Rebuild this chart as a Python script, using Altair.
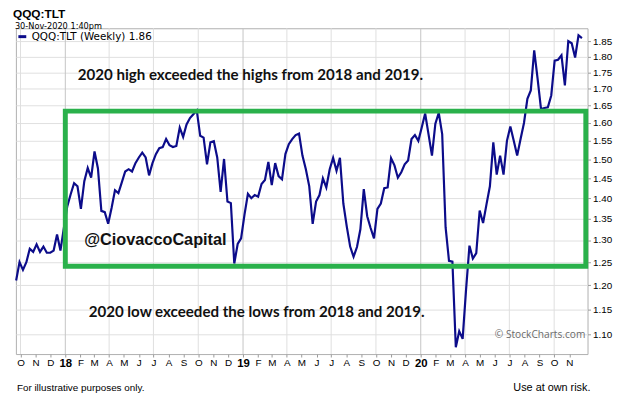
import altair as alt
import pandas as pd

# ---------------- data ----------------
series_name = "QQQ:TLT (Weekly) 1.86"
start_date = "2017-09-22"  # first weekly bar
ratio_values = [
    1.21, 1.25, 1.233, 1.25, 1.28, 1.273, 1.29, 1.273, 1.285, 1.271,
    1.271, 1.276, 1.313, 1.276, 1.328, 1.38, 1.41, 1.438, 1.43, 1.374,
    1.443, 1.477, 1.452, 1.521, 1.476, 1.369, 1.366, 1.338, 1.376, 1.42,
    1.413, 1.44, 1.468, 1.474, 1.468, 1.49, 1.505, 1.518, 1.505, 1.458,
    1.49, 1.514, 1.53, 1.533, 1.555, 1.538, 1.533, 1.536, 1.587, 1.561,
    1.596, 1.614, 1.625, 1.636, 1.564, 1.559, 1.487, 1.546, 1.549, 1.505,
    1.416, 1.501, 1.392, 1.388, 1.247, 1.291, 1.304, 1.36, 1.411, 1.40,
    1.408, 1.404, 1.436, 1.446, 1.493, 1.433, 1.49, 1.456, 1.448, 1.514,
    1.541, 1.555, 1.566, 1.57, 1.51, 1.474, 1.43, 1.338, 1.392, 1.408,
    1.45, 1.427, 1.474, 1.504, 1.47, 1.504, 1.387, 1.332, 1.285, 1.262,
    1.284, 1.325, 1.423, 1.356, 1.328, 1.304, 1.374, 1.387, 1.425, 1.427,
    1.503, 1.484, 1.452, 1.466, 1.487, 1.497, 1.555, 1.566, 1.55, 1.587,
    1.627, 1.568, 1.51, 1.598, 1.629, 1.569, 1.33, 1.253, 1.251, 1.075,
    1.106, 1.091, 1.19, 1.287, 1.258, 1.27, 1.37, 1.34, 1.385, 1.43,
    1.546, 1.46, 1.51, 1.46, 1.55, 1.59, 1.55, 1.51, 1.555, 1.60,
    1.67, 1.695, 1.82, 1.73, 1.64, 1.643, 1.645, 1.68, 1.787, 1.79,
    1.804, 1.71, 1.85, 1.843, 1.797, 1.869, 1.86,
]

y_tick_values = [1.10, 1.15, 1.20, 1.25, 1.30, 1.35, 1.40, 1.45, 1.50,
                 1.55, 1.60, 1.65, 1.70, 1.75, 1.80, 1.85]
y_domain = [1.062, 1.8926]
x_domain_start = (2017, 9, 21, 12)
x_domain_end = (2020, 12, 8, 12)

quarter_grid = ["2017-10-01", "2018-04-01", "2018-07-01", "2018-10-01",
                "2019-04-01", "2019-07-01", "2019-10-01",
                "2020-04-01", "2020-07-01", "2020-10-01"]
year_grid = ["2018-01-01", "2019-01-01", "2020-01-01"]

month_ticks = ([(2017, m) for m in (10, 11, 12)]
               + [(y, m) for y in (2018, 2019) for m in range(1, 13)]
               + [(2020, m) for m in range(1, 12)])

box_start, box_end = "2018-01-01", "2020-12-05"
box_low, box_high = 1.241, 1.634

note_texts = ["2020 high exceeded the highs from 2018 and 2019.",
              "2020 low exceeded the lows from 2018 and 2019."]
note_dates = ["2019-01-16", "2019-01-29"]
note_values = [1.743, 1.145]

handle_text, handle_date, handle_value = "@CiovaccoCapital", "2018-07-05", 1.299
mark_text_str, mark_date, mark_value = "\u00a9 StockCharts.com", "2020-12-04", 1.098

title_text = "QQQ:TLT"
stamp_text = "30-Nov-2020 1:40pm"
footer_left = "For illustrative purposes only."
footer_right = "Use at own risk."

# ---------------- build tables ----------------
dates = pd.date_range(start_date, periods=len(ratio_values), freq="7D")
line_df = pd.DataFrame({"date": dates, "ratio": ratio_values, "series": series_name})
qgrid_df = pd.DataFrame({"date": pd.to_datetime(quarter_grid)})
ygrid_df = pd.DataFrame({"date": pd.to_datetime(year_grid)})
box_df = pd.DataFrame({"x": pd.to_datetime([box_start]), "x2": pd.to_datetime([box_end]),
                       "y": [box_low], "y2": [box_high]})
notes_df = pd.DataFrame({"date": pd.to_datetime(note_dates), "v": note_values, "t": note_texts})
handle_df = pd.DataFrame({"date": pd.to_datetime([handle_date]), "v": [handle_value], "t": [handle_text]})
wm_df = pd.DataFrame({"date": pd.to_datetime([mark_date]), "v": [mark_value], "t": [mark_text_str]})

NAVY = "#0c0c8a"
GREEN = "#2ab14b"

xscale = alt.Scale(domain=[alt.DateTime(year=x_domain_start[0], month=x_domain_start[1],
                                        date=x_domain_start[2], hours=x_domain_start[3]),
                           alt.DateTime(year=x_domain_end[0], month=x_domain_end[1],
                                        date=x_domain_end[2], hours=x_domain_end[3])])
yscale = alt.Scale(type="log", domain=y_domain, nice=False, zero=False)

x_axis = alt.Axis(
    values=[alt.DateTime(year=y, month=m, date=1) for (y, m) in month_ticks],
    labelExpr="month(datum.value) == 0 ? timeFormat(datum.value, '%y') : "
              "substring(timeFormat(datum.value, '%b'), 0, 1)",
    labelFontWeight={"condition": {"test": "month(datum.value) == 0", "value": "bold"},
                     "value": "normal"},
    labelFontSize={"condition": {"test": "month(datum.value) == 0", "value": 11.5},
                   "value": 10},
    labelFont="Liberation Sans", labelColor="#000", labelAngle=0,
    labelOverlap=False, labelFlush=False, labelPadding=1,
    grid=False, domain=False, ticks=True, tickSize=3, tickColor="#999",
    title=None,
)
y_axis = alt.Axis(
    orient="right", values=y_tick_values, format=".2f",
    labelFont="Liberation Sans", labelFontSize=10, labelColor="#000",
    labelPadding=2, tickSize=3, tickColor="#999",
    grid=True, gridColor="#e0e0e0", gridWidth=1, domain=False, title=None,
)

def X(field):
    return alt.X(field, scale=xscale, axis=x_axis)

def Y(field):
    return alt.Y(field, scale=yscale, axis=y_axis)

qgrid = alt.Chart(qgrid_df).mark_rule(color="#dedede", strokeWidth=1).encode(x=X("date:T"))
ygrid = alt.Chart(ygrid_df).mark_rule(color="#c4c4c4", strokeWidth=1).encode(x=X("date:T"))

line = alt.Chart(line_df).mark_line(strokeWidth=2.2).encode(
    x=X("date:T"),
    y=Y("ratio:Q"),
    color=alt.Color("series:N",
                    scale=alt.Scale(domain=[series_name], range=[NAVY]),
                    legend=alt.Legend(orient="none", legendX=1, legendY=3, title=None,
                                      symbolType="stroke", symbolStrokeWidth=3,
                                      symbolSize=64, labelFont="DejaVu Sans",
                                      labelFontSize=10.5, labelColor="#000",
                                      labelOffset=4, padding=0)),
)

box = alt.Chart(box_df).mark_rect(fillOpacity=0, stroke=GREEN, strokeWidth=5).encode(
    x=X("x:T"), x2="x2:T", y=Y("y:Q"), y2="y2:Q")

notes = alt.Chart(notes_df).mark_text(font="Lato", fontSize=15.3, fontWeight="bold",
                                      align="center", baseline="middle", color="#111").encode(
    x=X("date:T"), y=Y("v:Q"), text="t:N")

handle = alt.Chart(handle_df).mark_text(font="Liberation Sans", fontSize=16.5, fontWeight="bold",
                                        align="center", baseline="middle", color="#111").encode(
    x=X("date:T"), y=Y("v:Q"), text="t:N")

wm = alt.Chart(wm_df).mark_text(font="Open Sans", fontSize=10.3, align="right",
                                baseline="middle", color="#6a6a6a").encode(
    x=X("date:T"), y=Y("v:Q"), text="t:N")

def label(txt, px, py, **kw):
    return alt.Chart(pd.DataFrame({"t": [txt]})).mark_text(**kw).encode(
        x=alt.value(px), y=alt.value(py), text="t:N")

head1 = label(title_text, -3, -10, font="Liberation Sans", fontSize=12, fontWeight="bold",
              align="left", baseline="alphabetic", color="#000")
head2 = label(stamp_text, -1, 0.4, font="DejaVu Sans", fontSize=8.3, align="left",
              baseline="alphabetic", color="#000")
foot1 = label(footer_left, 1, 364, font="Liberation Sans", fontSize=10, align="left",
              baseline="middle", color="#000")
foot2 = label(footer_right, 582, 364, font="Liberation Sans", fontSize=11, align="right",
              baseline="middle", color="#000")

chart = alt.layer(qgrid, ygrid, line, box, notes, handle, wm, head1, head2, foot1, foot2).properties(
    width=579, height=330,
    padding={"left": 8, "top": 18, "right": 41, "bottom": 43},
    autosize=alt.AutoSizeParams(type="none"),
    background="white",
).configure_view(stroke="#b0b0b0", strokeWidth=1)

chart.save("out.html", embed_options={"renderer": "svg", "actions": False})
